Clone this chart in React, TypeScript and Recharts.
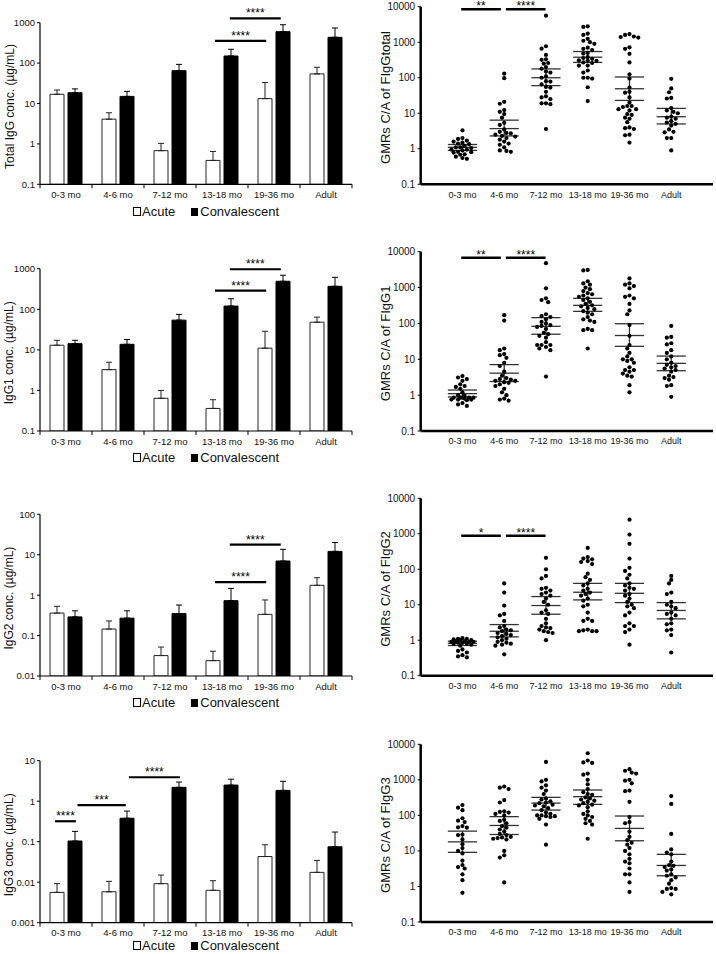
import React from "react";
import {
  ComposedChart,
  ScatterChart,
  Bar,
  Scatter,
  XAxis,
  YAxis,
  ErrorBar,
  ReferenceLine,
  Legend,
} from "recharts";

// ---------------------------------------------------------------------------
// Data
// ---------------------------------------------------------------------------

const GROUPS = ["0-3 mo", "4-6 mo", "7-12 mo", "13-18 mo", "19-36 mo", "Adult"];

// Left column: concentrations (µg/mL) with the top of the error bar
const totalAcute = [16.9, 4.1, 0.68, 0.39, 13.2, 54];
const totalAcuteHi = [21.6, 5.9, 1.03, 0.65, 33, 79];
const totalConv = [18.5, 15, 65, 150, 600, 435];
const totalConvHi = [23, 20, 93, 220, 890, 740];

const igg1Acute = [13, 3.25, 0.64, 0.36, 11, 48];
const igg1AcuteHi = [17.2, 4.95, 1.0, 0.59, 28.7, 64];
const igg1Conv = [14.2, 13.7, 54, 120, 490, 368];
const igg1ConvHi = [17.2, 18, 75, 182, 690, 614];

const igg2Acute = [0.36, 0.145, 0.032, 0.024, 0.335, 1.75];
const igg2AcuteHi = [0.53, 0.23, 0.052, 0.041, 0.76, 2.7];
const igg2Conv = [0.29, 0.27, 0.35, 0.73, 7.0, 12.1];
const igg2ConvHi = [0.41, 0.41, 0.57, 1.47, 13.6, 20];

const igg3Acute = [0.0056, 0.0058, 0.0092, 0.0063, 0.043, 0.0175];
const igg3AcuteHi = [0.0092, 0.0105, 0.015, 0.0109, 0.084, 0.0346];
const igg3Conv = [0.104, 0.38, 2.2, 2.5, 1.85, 0.075];
const igg3ConvHi = [0.18, 0.57, 2.97, 3.5, 3.1, 0.173];

const TICKS_3 = [0.1, 1, 10, 100, 1000];
const TICKS_2 = [0.01, 0.1, 1, 10, 100];
const TICKS_1 = [0.001, 0.01, 0.1, 1, 10];
const DOT_TICKS = [0.1, 1, 10, 100, 1000, 10000];

// significance brackets (x in group units on a 0..6 axis)
const totalSig = [
  { from: 3.365, to: 4.35, y: 355, label: "****" },
  { from: 3.65, to: 4.63, y: 1280, label: "****" },
];
const igg1Sig = [
  { from: 3.365, to: 4.35, y: 287, label: "****" },
  { from: 3.65, to: 4.63, y: 970, label: "****" },
];
const igg2Sig = [
  { from: 3.365, to: 4.35, y: 2.1, label: "****" },
  { from: 3.65, to: 4.63, y: 17.7, label: "****" },
];
const igg3Sig = [
  { from: 0.29, to: 0.69, y: 0.32, label: "****" },
  { from: 0.72, to: 1.65, y: 0.8, label: "***" },
  { from: 1.71, to: 2.69, y: 3.9, label: "****" },
];

// Right column: individual GMRs (convalescent / acute), one list per group
const gmrTotal = [
  [3.3, 2.0, 1.9, 1.7, 1.6, 1.5, 1.4, 1.35, 1.2, 1.1, 1.1, 1.05, 0.95, 0.95, 0.9, 0.82, 0.8, 0.78, 0.7, 0.68, 0.6, 0.55, 0.52],
  [130, 97, 21, 18.5, 12.3, 11, 9.5, 7.5, 5.4, 4.7, 3.5, 3.0, 2.8, 2.7, 2.5, 2.3, 2.2, 2.0, 1.8, 1.6, 1.4, 1.3, 1.1, 0.9, 0.87, 0.82],
  [5600, 770, 660, 440, 330, 320, 260, 250, 200, 180, 150, 140, 110, 100, 80, 78, 65, 55, 53, 40, 30, 28, 25, 19, 19, 18, 3.6],
  [2800, 2700, 1750, 1600, 1250, 1100, 1000, 900, 700, 650, 600, 500, 480, 380, 360, 340, 310, 300, 300, 270, 260, 220, 220, 160, 140, 100, 100, 95, 54, 22],
  [1700, 1600, 1450, 1400, 1350, 720, 650, 470, 270, 125, 95, 53, 40, 38, 28, 20, 16, 16, 15, 13, 13, 12, 9.5, 9, 7.5, 7, 5.6, 4, 3.8, 3.6, 2.5, 2.4, 1.5],
  [93, 50, 39, 27, 26, 14, 12, 11, 10, 8, 7.5, 7, 6, 5.5, 5, 4.5, 3.5, 3, 2.9, 2, 2, 0.9],
];
const gmrTotalMean = [1.1, 3.7, 100, 378, 49, 8];
const gmrTotalLo = [0.9, 2.3, 60, 270, 23, 5];
const gmrTotalHi = [1.32, 6.4, 177, 547, 105, 13.7];

const gmrIgg1 = [
  [3.4, 3.1, 2.8, 2.5, 2.0, 1.8, 1.7, 1.5, 1.2, 1.0, 0.95, 0.85, 0.85, 0.85, 0.85, 0.85, 0.8, 0.75, 0.75, 0.75, 0.72, 0.6, 0.55, 0.5],
  [170, 120, 20, 18, 14, 13, 11, 8, 6.5, 4.5, 3.5, 3, 2.8, 2.7, 2.5, 2.5, 2.3, 2.2, 2.0, 1.8, 1.5, 1.2, 1.0, 0.8, 0.75, 0.7],
  [4800, 950, 500, 450, 390, 180, 160, 150, 130, 110, 100, 90, 85, 80, 70, 55, 50, 45, 40, 30, 25, 25, 25, 22, 20, 18, 3.3],
  [3100, 3000, 1500, 1300, 1200, 1000, 900, 800, 700, 650, 600, 550, 500, 450, 400, 350, 320, 300, 270, 250, 220, 200, 180, 150, 130, 120, 110, 70, 65, 65, 20],
  [1800, 1300, 1200, 1100, 950, 600, 550, 500, 350, 230, 180, 90, 45, 25, 20, 15, 12, 10, 10, 9, 8, 6, 5, 5, 4.5, 4, 3.5, 3.3, 1.9, 1.2],
  [85, 42, 40, 28, 26, 18, 15, 12, 10, 8, 7, 6.5, 6, 5.5, 5, 4.5, 3.5, 3.2, 3, 2.7, 1.9, 1.8, 0.9],
];
const gmrIgg1Mean = [1.1, 4.1, 83, 319, 46, 7.7];
const gmrIgg1Lo = [0.89, 2.4, 50, 217, 23, 4.8];
const gmrIgg1Hi = [1.39, 7.1, 145, 500, 98, 12.3];

const gmrIgg2 = [
  [1.15, 1.1, 1.1, 1.05, 1.0, 1.0, 0.95, 0.95, 0.9, 0.9, 0.9, 0.85, 0.85, 0.8, 0.8, 0.75, 0.7, 0.55, 0.5, 0.45, 0.38, 0.35, 0.33],
  [40, 22, 9.5, 5.5, 5, 3.5, 2.5, 2.3, 2.0, 1.9, 1.8, 1.6, 1.5, 1.4, 1.3, 1.2, 1.1, 1.0, 0.9, 0.85, 0.8, 0.75, 0.7, 0.4],
  [210, 100, 65, 55, 30, 28, 25, 22, 20, 18, 15, 12, 10, 7, 6, 5.5, 4, 3, 2.5, 2.3, 2.2, 2.0, 1.8, 1.7, 1.6, 1.0],
  [400, 220, 200, 190, 170, 160, 140, 75, 60, 50, 40, 35, 28, 25, 22, 20, 18, 15, 13, 10, 9, 6, 4, 3.5, 3.5, 2.0, 1.9, 1.8, 1.8, 1.8],
  [2500, 950, 520, 200, 110, 90, 70, 55, 40, 35, 30, 28, 25, 20, 18, 15, 12, 10, 9, 8, 6, 5, 3, 2.5, 2.5, 2.0, 1.7, 0.75],
  [65, 50, 40, 22, 20, 12, 10, 9, 8, 6, 5.5, 5, 4, 3, 2.8, 2.0, 1.9, 1.4, 0.45],
];
const gmrIgg2Mean = [0.82, 1.79, 9.5, 22.5, 21, 6.9];
const gmrIgg2Lo = [0.71, 1.24, 5.4, 13.7, 11.5, 4.0];
const gmrIgg2Hi = [0.94, 2.76, 17, 40, 40, 11.5];

const gmrIgg3 = [
  [195, 165, 140, 83, 71, 65, 50, 46, 45, 29, 28, 21, 15.5, 12, 10, 8.5, 5.3, 4.0, 3.5, 3.2, 2.2, 1.5, 0.66],
  [650, 600, 550, 270, 230, 130, 125, 120, 110, 100, 75, 70, 60, 50, 45, 40, 35, 30, 28, 25, 24, 23, 22, 21, 10, 7.5, 6.5, 1.3],
  [3200, 1000, 900, 700, 600, 500, 400, 300, 280, 250, 230, 220, 200, 190, 180, 160, 140, 120, 110, 100, 100, 95, 95, 90, 80, 55, 15],
  [5600, 3500, 3100, 3000, 1500, 1400, 1000, 750, 550, 450, 400, 380, 320, 300, 280, 260, 240, 220, 200, 190, 170, 130, 110, 100, 90, 80, 70, 60, 55, 22],
  [2000, 1800, 1600, 1500, 1000, 950, 800, 500, 480, 240, 90, 65, 60, 35, 25, 20, 17, 15, 12, 10, 8, 6, 5, 4.5, 3.2, 2.2, 2.2, 1.3, 0.7],
  [350, 210, 30, 11, 9, 8, 5, 4, 3.8, 3.5, 3, 2.8, 2.2, 2, 1.8, 1.5, 1.2, 0.9, 0.85, 0.85, 0.7, 0.6],
];
const gmrIgg3Mean = [18, 52, 222, 336, 43, 3.9];
const gmrIgg3Lo = [9.1, 29, 141, 204, 19.3, 2.0];
const gmrIgg3Hi = [36, 92, 321, 518, 96, 8.0];

const dotSigA = [
  { from: 0.97, to: 1.92, y: 8500, label: "**" },
  { from: 2.04, to: 2.99, y: 8500, label: "****" },
];
const dotSigB = [
  { from: 0.97, to: 1.92, y: 6800, label: "**" },
  { from: 2.04, to: 2.99, y: 6800, label: "****" },
];
const dotSigC = [
  { from: 0.97, to: 1.92, y: 880, label: "*" },
  { from: 2.04, to: 2.99, y: 880, label: "****" },
];

// ---------------------------------------------------------------------------
// Panel layout
// ---------------------------------------------------------------------------

const FONT = "'Liberation Sans', Arial, sans-serif";
const INK = "#111";

const PANEL_W = 358;
const BAR_Y_AXIS_W = 40;
const BAR_RIGHT = 6;
const BAND_PX = (PANEL_W - BAR_Y_AXIS_W - BAR_RIGHT) / GROUPS.length;
const BAR_TICK_SIZE = 4;
const BAR_TICK_MARGIN = 3;

const BAR_PANELS = [
  { title: "Total IgG conc. (µg/mL)", acute: totalAcute, acuteHi: totalAcuteHi, conv: totalConv, convHi: totalConvHi, domain: [0.1, 1000], ticks: TICKS_3, sig: totalSig, top: 0, height: 240, plotTop: 22.7, plotH: 161.6, legendY: 211.7 },
  { title: "IgG1 conc. (µg/mL)", acute: igg1Acute, acuteHi: igg1AcuteHi, conv: igg1Conv, convHi: igg1ConvHi, domain: [0.1, 1000], ticks: TICKS_3, sig: igg1Sig, top: 240, height: 240, plotTop: 28.7, plotH: 162.3, legendY: 457.7 },
  { title: "IgG2 conc. (µg/mL)", acute: igg2Acute, acuteHi: igg2AcuteHi, conv: igg2Conv, convHi: igg2ConvHi, domain: [0.01, 100], ticks: TICKS_2, sig: igg2Sig, top: 480, height: 240, plotTop: 34.3, plotH: 161.7, legendY: 702.7 },
  { title: "IgG3 conc. (µg/mL)", acute: igg3Acute, acuteHi: igg3AcuteHi, conv: igg3Conv, convHi: igg3ConvHi, domain: [0.001, 10], ticks: TICKS_1, sig: igg3Sig, top: 718, height: 236, plotTop: 42.7, plotH: 162, legendY: 945.5 },
];

const DOT_PANELS = [
  { title: "GMRs C/A of FIgGtotal", values: gmrTotal, mean: gmrTotalMean, lo: gmrTotalLo, hi: gmrTotalHi, sig: dotSigA, top: 0, height: 240, plotTop: 6.7, plotH: 177.6 },
  { title: "GMRs C/A of FIgG1", values: gmrIgg1, mean: gmrIgg1Mean, lo: gmrIgg1Lo, hi: gmrIgg1Hi, sig: dotSigB, top: 240, height: 240, plotTop: 11.7, plotH: 179.3 },
  { title: "GMRs C/A of FIgG2", values: gmrIgg2, mean: gmrIgg2Mean, lo: gmrIgg2Lo, hi: gmrIgg2Hi, sig: dotSigC, top: 480, height: 240, plotTop: 18.3, plotH: 177.4 },
  { title: "GMRs C/A of FIgG3", values: gmrIgg3, mean: gmrIgg3Mean, lo: gmrIgg3Lo, hi: gmrIgg3Hi, sig: [], top: 718, height: 236, plotTop: 26.3, plotH: 177.7 },
];

// beeswarm spread for the dot plots (pixel-based, capped width like Prism)
const PX_PER_DECADE = 35.5;
const PX_PER_UNIT = 41.7;
const STEP = 2.2;
const MIN_DIST = 3.9;
const MAX_OFF = 13;

function swarm(values: number[], center: number) {
  const placed: { px: number; py: number }[] = [];
  return [...values]
    .sort((a, b) => b - a)
    .map((v) => {
      const py = Math.log10(v) * PX_PER_DECADE;
      let best = 0;
      let bestGap = -1;
      for (let k = 0; ; k++) {
        const cand = (k % 2 === 0 ? 1 : -1) * Math.ceil(k / 2) * STEP;
        if (Math.abs(cand) > MAX_OFF) break;
        const gap = placed.reduce((m, p) => Math.min(m, Math.hypot(p.px - cand, p.py - py)), Infinity);
        if (gap >= MIN_DIST) {
          best = cand;
          break;
        }
        if (gap > bestGap) {
          best = cand;
          bestGap = gap;
        }
      }
      placed.push({ px: best, py });
      return { x: center + best / PX_PER_UNIT, y: v };
    });
}

// ---------------------------------------------------------------------------
// Small pieces
// ---------------------------------------------------------------------------

function YTitle({ text, titleX, titleY, size }: any) {
  return (
    <text
      x={titleX}
      y={titleY}
      transform={`rotate(-90, ${titleX}, ${titleY})`}
      textAnchor="middle"
      dominantBaseline="central"
      fontSize={size}
      fontFamily={FONT}
      fill={INK}
    >
      {text}
    </text>
  );
}

// category label at the band centre plus small tick marks on the band edges
function BarAxisTick({ x, y, payload, index }: any) {
  const axisY = y - BAR_TICK_SIZE - BAR_TICK_MARGIN;
  const edge = (ex: number) => (
    <line x1={ex} x2={ex} y1={axisY} y2={axisY + BAR_TICK_SIZE} stroke="#000" strokeWidth={1} />
  );
  return (
    <g>
      {index === 0 && edge(x - BAND_PX / 2)}
      {edge(x + BAND_PX / 2)}
      <text x={x} y={y} dy="0.71em" textAnchor="middle" fontSize={9.5} fontFamily={FONT} fill={INK}>
        {GROUPS[Math.floor(payload.value)]}
      </text>
    </g>
  );
}

function AcuteConvLegend() {
  return (
    <div
      style={{
        display: "flex",
        alignItems: "center",
        fontFamily: FONT,
        fontSize: 13,
        lineHeight: "16px",
        height: 16,
        color: INK,
        whiteSpace: "nowrap",
      }}
    >
      <span style={{ display: "inline-block", width: 6, height: 7, border: "1px solid #000", background: "#fff", marginRight: 1 }} />
      <span>Acute</span>
      <span style={{ display: "inline-block", width: 7, height: 8, background: "#000", marginLeft: 16, marginRight: 2 }} />
      <span>Convalescent</span>
    </div>
  );
}

const Dot = (props: any) => <circle cx={props.cx} cy={props.cy} r={2.1} fill="#000" />;

// ---------------------------------------------------------------------------
// Panels
// ---------------------------------------------------------------------------

function BarPanel({ p }: { p: (typeof BAR_PANELS)[number] }) {
  const data = GROUPS.map((g, i) => ({
    group: g,
    pos: i + 0.5,
    acute: p.acute[i],
    conv: p.conv[i],
    acuteErr: [0, p.acuteHi[i] - p.acute[i]],
    convErr: [0, p.convHi[i] - p.conv[i]],
  }));
  const bottom = p.height - p.plotTop - p.plotH - 24;

  return (
    <div style={{ position: "absolute", left: 0, top: p.top }}>
      <ComposedChart
        width={PANEL_W}
        height={p.height}
        data={data}
        barSize={14}
        barGap={4}
        margin={{ top: p.plotTop, right: BAR_RIGHT, bottom, left: 0 }}
      >
        <XAxis
          type="number"
          dataKey="pos"
          domain={[0, 6]}
          ticks={data.map((d) => d.pos)}
          allowDataOverflow
          interval={0}
          height={24}
          axisLine={{ stroke: "#000", strokeWidth: 1.2 }}
          tickLine={false}
          tickSize={BAR_TICK_SIZE}
          tickMargin={BAR_TICK_MARGIN}
          tick={<BarAxisTick />}
        />
        <YAxis
          type="number"
          scale="log"
          domain={p.domain}
          ticks={p.ticks}
          allowDataOverflow
          interval={0}
          width={BAR_Y_AXIS_W}
          tickSize={3}
          tickMargin={2}
          axisLine={{ stroke: "#000", strokeWidth: 1.2 }}
          tickLine={{ stroke: "#000" }}
          tick={{ fontSize: 9.5, fill: INK, fontFamily: FONT }}
          label={<YTitle text={p.title} titleX={9.5} titleY={p.plotTop + p.plotH / 2 + 3} size={12} />}
        />
        <Bar dataKey="acute" fill="#fff" stroke="#222" strokeWidth={1} isAnimationActive={false}>
          <ErrorBar dataKey="acuteErr" width={3} stroke="#222" strokeWidth={1} direction="y" />
        </Bar>
        <Bar dataKey="conv" fill="#000" stroke="#000" strokeWidth={1} isAnimationActive={false}>
          <ErrorBar dataKey="convErr" width={3} stroke="#000" strokeWidth={1} direction="y" />
        </Bar>
        {p.sig.map((s, i) => (
          <ReferenceLine
            key={`sig-${i}`}
            ifOverflow="visible"
            segment={[
              { x: s.from, y: s.y },
              { x: s.to, y: s.y },
            ]}
            stroke="#000"
            strokeWidth={2.2}
            label={{ value: s.label, position: "top", offset: 1, fontSize: 12, fill: "#000", fontFamily: FONT }}
          />
        ))}
        <Legend
          verticalAlign="middle"
          align="center"
          layout="horizontal"
          content={<AcuteConvLegend />}
          wrapperStyle={{ top: p.legendY - p.top - 8, left: 133, width: "auto" }}
        />
      </ComposedChart>
    </div>
  );
}

function DotPanel({ p }: { p: (typeof DOT_PANELS)[number] }) {
  const points = p.values.flatMap((vals, i) => swarm(vals, i + 1));
  const bottom = p.height - p.plotTop - p.plotH - 24;
  const HALF = 0.35;

  return (
    <div style={{ position: "absolute", left: PANEL_W, top: p.top }}>
      <ScatterChart width={PANEL_W} height={p.height} margin={{ top: p.plotTop, right: 3, bottom, left: 0 }}>
        <XAxis
          type="number"
          dataKey="x"
          domain={[0, 7]}
          ticks={[1, 2, 3, 4, 5, 6]}
          allowDataOverflow
          interval={0}
          height={24}
          tickFormatter={(v: number) => GROUPS[v - 1]}
          axisLine={{ stroke: "#000", strokeWidth: 2.5 }}
          tickLine={false}
          tickSize={4}
          tickMargin={3}
          tick={{ fontSize: 9, fill: INK, fontFamily: FONT }}
        />
        <YAxis
          type="number"
          dataKey="y"
          scale="log"
          domain={[0.1, 10000]}
          ticks={DOT_TICKS}
          allowDataOverflow
          interval={0}
          width={62.7}
          tickSize={3}
          tickMargin={2.5}
          axisLine={{ stroke: "#000", strokeWidth: 2.5 }}
          tickLine={{ stroke: "#000" }}
          tick={{ fontSize: 10, fill: INK, fontFamily: FONT }}
          label={<YTitle text={p.title} titleX={27.7} titleY={p.plotTop + p.plotH / 2 + 2} size={13} />}
        />
        <Scatter data={points} shape={Dot} isAnimationActive={false} />

        {/* geometric mean with 95% CI */}
        {GROUPS.map((_, i) => {
          const x = i + 1;
          return (
            <React.Fragment key={`stat-${i}`}>
              {[p.mean[i], p.lo[i], p.hi[i]].map((v, j) => (
                <ReferenceLine
                  key={`h-${j}`}
                  segment={[
                    { x: x - HALF, y: v },
                    { x: x + HALF, y: v },
                  ]}
                  stroke="#333"
                  strokeWidth={1.3}
                />
              ))}
              <ReferenceLine
                segment={[
                  { x, y: p.lo[i] },
                  { x, y: p.hi[i] },
                ]}
                stroke="#333"
                strokeWidth={1.3}
              />
            </React.Fragment>
          );
        })}

        {p.sig.map((s, i) => (
          <ReferenceLine
            key={`sig-${i}`}
            segment={[
              { x: s.from, y: s.y },
              { x: s.to, y: s.y },
            ]}
            stroke="#000"
            strokeWidth={2.5}
            label={{ value: s.label, position: "top", offset: -1, fontSize: 12, fill: "#000", fontFamily: FONT }}
          />
        ))}
      </ScatterChart>
    </div>
  );
}

export default function App() {
  return (
    <div
      style={{
        position: "absolute",
        left: 0,
        top: 0,
        width: 716,
        height: 954,
        overflow: "hidden",
        background: "#fff",
        fontFamily: FONT,
      }}
    >
      {BAR_PANELS.map((p) => (
        <BarPanel key={p.title} p={p} />
      ))}
      {DOT_PANELS.map((p) => (
        <DotPanel key={p.title} p={p} />
      ))}
    </div>
  );
}
